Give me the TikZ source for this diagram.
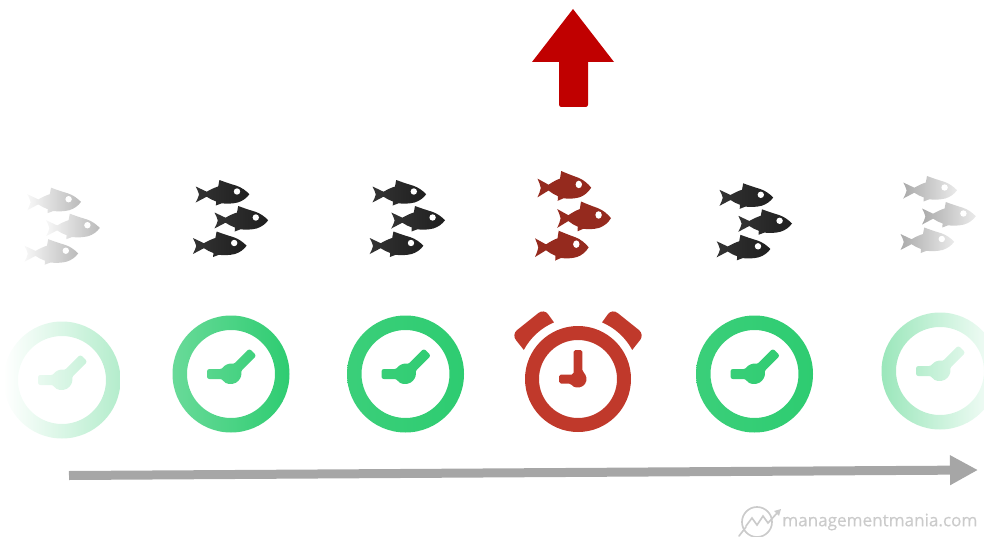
\documentclass[tikz,border=0pt]{standalone}
\usepackage{fontspec}
\newfontfamily\brandfont{Open Sans}[FakeBold=0.5]
\usetikzlibrary{arrows.meta,positioning}
\definecolor{clockgreen}{HTML}{2ECC71}
\definecolor{alarmred}{HTML}{C0392B}
\definecolor{fishred}{HTML}{952A1E}
\definecolor{uparrowred}{HTML}{C00000}
\definecolor{timegray}{HTML}{A6A6A6}
\definecolor{brandgray}{HTML}{CBCBCB}
\tikzset{
  clockfadein/.style={even odd rule, left color=white, middle color=clockgreen!13!white, right color=clockgreen!36!white},
  clocksoft/.style={even odd rule, left color=clockgreen!72!white, middle color=clockgreen!94!white, right color=clockgreen},
  clockfull/.style={even odd rule, left color=clockgreen!94!white, right color=clockgreen},
  clockfadeout/.style={even odd rule, left color=clockgreen!48!white, middle color=clockgreen!21!white, right color=clockgreen!3!white},
  fishfadein/.style={left color=black!3, right color=black!27},
  fishdark/.style={left color=black!80, right color=black!88},
  fishblood/.style={left color=fishred, right color=fishred},
  fishfadeout/.style={left color=black!33, right color=black!8},
  timearrow/.style={-{Triangle[length=0.84cm,width=0.84cm]}, line width=0.27cm, draw=timegray},
  uparrow/.style={fill=uparrowred},
  brand/.style={text=brandgray, inner sep=0pt, anchor=west},
  brandline/.style={draw=brandgray, line width=0.05cm, line cap=round}
}
\newcommand{\onefish}[4]{
  \begin{scope}[shift={(#1,#2)},yscale=#4]
  \shade[#3] (0,6.5) -- (11,11.7) .. controls (15,9.5) and (19,7.5) .. (22.5,6.5) -- (23.7,0)
    .. controls (29,2) and (35,4) .. (40.7,5.7) .. controls (46,7.5) and (50,10.5) .. (53.7,14.2)
    .. controls (51,18) and (47,21) .. (42,22.5) .. controls (37,23.7) and (31,24) .. (26,23.3)
    -- (20.2,25.5) -- (20.5,21.5) .. controls (17,20.5) and (14,18.5) .. (11,16.7) -- (0,22.5)
    .. controls (1,19.5) and (3.3,17) .. (3.3,14.5) .. controls (3.3,12) and (1,9.5) .. (0,6.5) -- cycle;
  \fill[white] (41.3,11.5) circle[radius=3.2];
  \end{scope}
}
\newcommand{\fishgroup}[3]{
  \onefish{#1}{#2}{#3}{1}
  \onefish{#1+18.8}{#2+26}{#3}{1}
  \onefish{#1-2.8}{#2+51.5}{#3}{1}
}
\newcommand{\clockface}[3]{
  \begin{scope}[shift={(#1,#2)}]
  \shade[#3] (0,0) circle[radius=58.5] (0,0) circle[radius=44]
    [rounded corners=2] (-24,-5) -- (-24,5) -- (-8.66,5) arc[start angle=150,end angle=-15,radius=10]
    -- (25.46,-18.38) -- (18.38,-25.46) -- (2.59,-9.66) arc[start angle=-75,end angle=-150,radius=10] -- cycle;
  \end{scope}
}
\begin{document}
\begin{tikzpicture}[x=0.03cm,y=-0.03cm]
\clip (0,0) rectangle (984,537);
% top arrow
\fill[uparrow] (573,9) -- (614,62) -- (588,62) [rounded corners=2] -- (588,107) -- (559,107) [sharp corners] -- (559,62) -- (532,62) -- cycle;
% fish
\fishgroup{27.3}{187.7}{fishfadein}
\fishgroup{195.7}{180}{fishdark}
\fishgroup{372.5}{180}{fishdark}
\onefish{537.5}{171}{fishblood}{1.17}
\onefish{557.3}{201.5}{fishblood}{1.17}
\onefish{535}{230.7}{fishblood}{1.17}
\fishgroup{719.5}{183.3}{fishdark}
\fishgroup{903.3}{176}{fishfadeout}
% clocks
\clockface{62}{380}{clockfadein}
\clockface{231}{374}{clocksoft}
\clockface{405.5}{374}{clockfull}
\clockface{754.5}{374}{clockfull}
\clockface{940}{371}{clockfadeout}
% alarm clock
\begin{scope}[shift={(578,379)}]
\fill[alarmred, even odd rule] (0,0) circle[radius=53] (0,0) circle[radius=39]
  [rounded corners=1.5] (-19,-4.5) -- (-19,4.5) -- (-7.2,4.5) arc[start angle=148,end angle=-59.6,radius=8.5]
  -- (4.3,-29) -- (-4.3,-29) -- (-4.3,-4.5) -- cycle;
\foreach \side in {1,-1} {
  \fill[alarmred, xscale=\side] (-151.8:61.5) arc[start angle=-151.8,end angle=-113,radius=61.5]
    [rounded corners=6] -- (-34,-70.5) -- (-66.5,-44.5) [sharp corners] -- cycle;
}
\end{scope}
% time line
\coordinate (timestart) at (69,475.5);
\coordinate (timeend) at (978,470);
\draw[timearrow] (timestart) -- (timeend);
% logo
\draw[brandline] (757,522) circle[radius=15];
\draw[brandline] (739,536) -- (746,527);
\draw[brandline] (746,526) -- (752,518) -- (757,525) -- (763,516) -- (768,523) -- (778,512);
\fill[brandgray] (781,509) -- (774,511) -- (779,516) -- cycle;
\node[brand, font=\brandfont\fontsize{14.6}{15}\selectfont] (brandname) at (782,522) {managementmania.com};
\end{tikzpicture}
\end{document}
